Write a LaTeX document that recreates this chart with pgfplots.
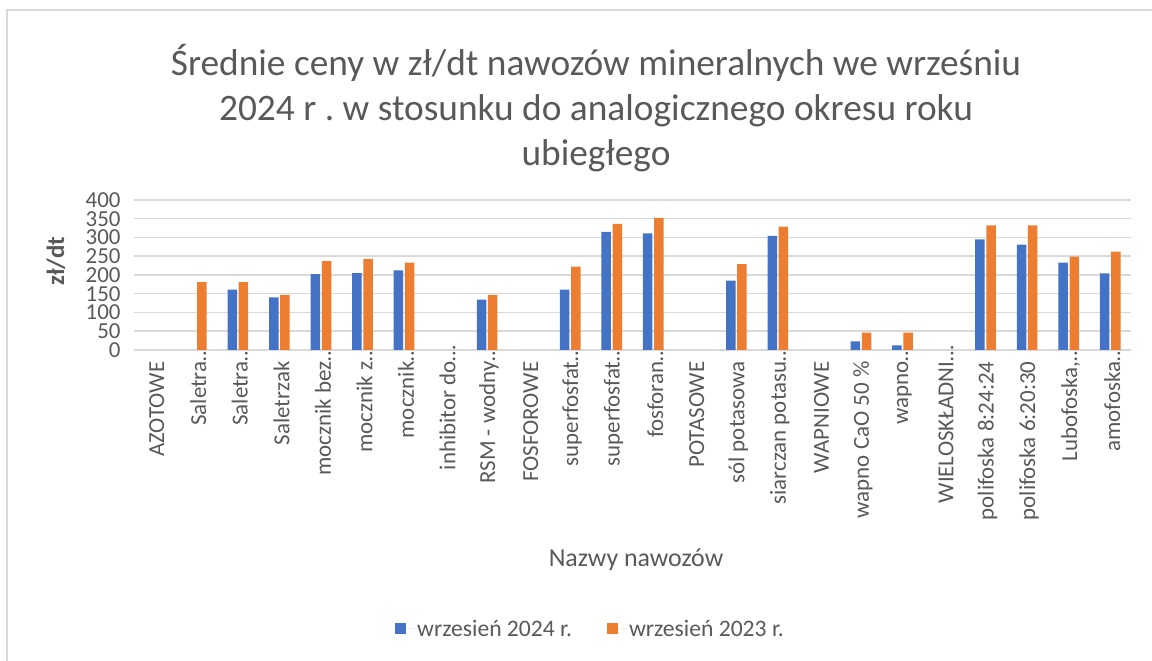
\documentclass[border=0pt]{standalone}
\usepackage{pgfplots}
\pgfplotsset{compat=1.18}
\usepackage{fontspec}
\setmainfont{Carlito}
\frenchspacing
\definecolor{txt}{HTML}{595959}
\definecolor{gridc}{HTML}{D9D9D9}
\definecolor{cblue}{HTML}{4472C4}
\definecolor{corange}{HTML}{ED7D31}
\begin{document}
\frenchspacing
\begin{tikzpicture}[x=1bp,y=1bp]
\path[use as bounding box] (0,0) rectangle (1152,661);
\draw[gridc, line width=2bp] (7,0) -- (7,651) -- (1152,651);
\node[txt, anchor=base, font=\fontsize{37.5}{45}\selectfont] at (596,585) {Średnie ceny w zł/dt nawozów mineralnych we wrześniu};
\node[txt, anchor=base, font=\fontsize{37.5}{45}\selectfont] at (596,540) {2024 r . w stosunku do analogicznego okresu roku};
\node[txt, anchor=base, font=\fontsize{37.5}{45}\selectfont] at (596,495) {ubiegłego};
\node[txt, anchor=base, rotate=90, font=\bfseries\fontsize{25}{25}\selectfont] at (64,400) {zł/dt};
\node[txt, anchor=base, font=\fontsize{26}{26}\selectfont] at (636,94) {Nazwy nawozów};
\begin{axis}[
  at={(134bp,311bp)}, anchor=south west,
  scale only axis, width=997bp, height=150bp,
  xmin=-0.5, xmax=23.5, ymin=0, ymax=400,
  ytick={0,50,...,400},
  ymajorgrids, grid style={gridc, line width=1.5bp},
  axis line style={draw=none},
  major tick length=0pt,
  /pgf/number format/assume math mode=true,
  tick label style={txt, font=\fontsize{23}{23}\selectfont},
  yticklabel style={xshift=-10bp},
  xtick={0,...,23},
  xticklabels={AZOTOWE, Saletra\rlap{…}, Saletra\rlap{…}, Saletrzak, mocznik bez\rlap{…}, mocznik z\rlap{…}, mocznik\rlap{…}, inhibitor do\rlap{…}, RSM - wodny\rlap{…}, FOSFOROWE, superfosfat\rlap{…}, superfosfat\rlap{…}, fosforan\rlap{…}, POTASOWE, sól potasowa, siarczan potasu\rlap{…}, WAPNIOWE, wapno CaO 50 \%, wapno\rlap{…}, WIELOSKŁADNI\rlap{…}, polifoska 8:24:24, polifoska 6:20:30, {Lubofoska,\rlap{…}}, amofoska\rlap{…}},
  xticklabel style={yshift=-8bp, xshift=2bp, rotate=90, anchor=east},
  ybar=1.7bp, bar width=9.5bp,
  legend columns=2,
  legend style={at={(0.2618,-1.86)}, anchor=west, draw=none, fill=none, inner sep=0pt,
    font=\fontsize{23.7}{23.7}\selectfont, text=txt,
    /tikz/every even column/.append style={column sep=33bp}},
  legend image code/.code={\fill[#1] (0bp,-5.5bp) rectangle (11bp,5.5bp); \path (0bp,0bp) -- (20bp,0bp);},
]
\addplot[fill=cblue, draw=none] coordinates {
 (2,161) (3,140) (4,202) (5,205) (6,212) (8,134) (10,161) (11,315)
 (12,311) (14,185) (15,304) (17,23) (18,12) (20,295) (21,281) (22,233) (23,204)};
\addplot[fill=corange, draw=none] coordinates {
 (1,181) (2,181) (3,147) (4,237) (5,243) (6,233) (8,147) (10,222) (11,336)
 (12,352) (14,229) (15,329) (17,46) (18,46) (20,332) (21,332) (22,249) (23,262)};
\legend{wrzesień 2024 r., wrzesień 2023 r.}
\end{axis}
\end{tikzpicture}
\end{document}
